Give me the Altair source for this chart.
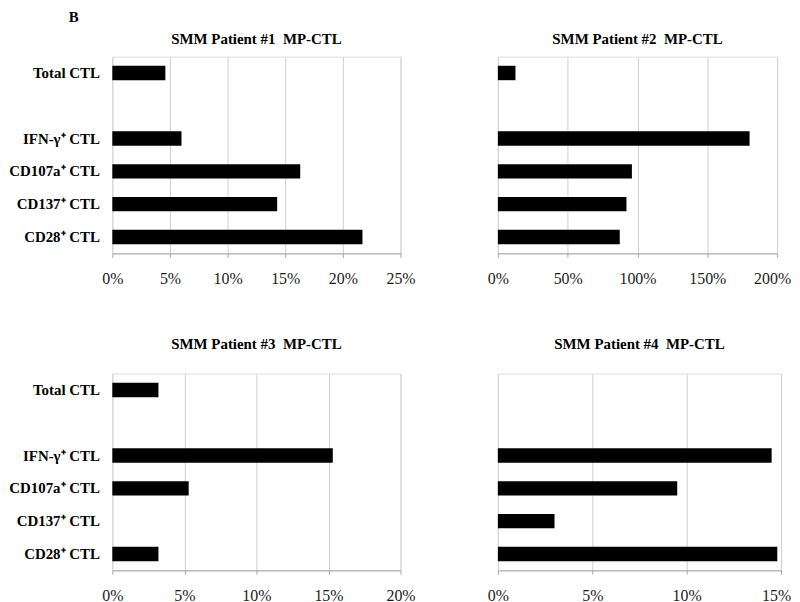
import altair as alt
import pandas as pd

categories = ["Total CTL", " ", "IFN-γ⁺ CTL", "CD107a⁺ CTL", "CD137⁺ CTL", "CD28⁺ CTL"]
bar_categories = ["Total CTL", "IFN-γ⁺ CTL", "CD107a⁺ CTL", "CD137⁺ CTL", "CD28⁺ CTL"]

patient1 = [4.6, 6.0, 16.3, 14.3, 21.7]
patient2 = [12.6, 180.3, 96.0, 92.1, 87.3]
patient3 = [3.2, 15.3, 5.3, 0.0, 3.2]
patient4 = [0.0, 14.5, 9.5, 3.0, 14.8]

titles = ["SMM Patient #1\u00a0\u00a0MP-CTL", "SMM Patient #2\u00a0\u00a0MP-CTL",
          "SMM Patient #3\u00a0\u00a0MP-CTL", "SMM Patient #4\u00a0\u00a0MP-CTL"]
x_max = [25, 200, 20, 15]
x_step = [5, 50, 5, 5]

FONT = "Liberation Serif"


def panel(values, title, xmax, step, show_labels, width, title_offset, end_shift):
    df = pd.DataFrame({"cat": bar_categories, "val": values})
    ticks = list(range(0, xmax + 1, step))
    return alt.Chart(df).mark_bar(color="black").encode(
        x=alt.X("val:Q",
                scale=alt.Scale(domain=[0, xmax], nice=False, zero=True),
                axis=alt.Axis(values=ticks, title=None, grid=True,
                              gridColor="#d0d0d0", domainColor="#a6a6a6",
                              tickColor="#a6a6a6", tickSize=4,
                              labelExpr="datum.value + '%'",
                              labelFont=FONT, labelFontSize=16,
                              labelColor="#1a1a1a", labelPadding=13,
                              labelOffset={"expr": f"datum.value == {xmax} ? {end_shift} : 0"},
                              labelFlush=False)),
        y=alt.Y("cat:N",
                scale=alt.Scale(domain=categories, paddingInner=0.56,
                                paddingOuter=0.28),
                axis=alt.Axis(title=None, domain=False, ticks=False,
                              labels=show_labels, labelFont=FONT,
                              labelFontSize=15, labelFontWeight="bold",
                              labelColor="black", labelPadding=13,
                              labelLimit=200)),
    ).properties(
        width=width, height=198,
        title=alt.TitleParams(title, font=FONT, fontSize=15,
                              fontWeight="bold", color="black",
                              anchor="middle", offset=title_offset),
    )


p1 = panel(patient1, titles[0], x_max[0], x_step[0], True, 290, 10, 0)
p2 = panel(patient2, titles[1], x_max[1], x_step[1], False, 281, 10, -5)
p3 = panel(patient3, titles[2], x_max[2], x_step[2], True, 290, 22, 0)
p4 = panel(patient4, titles[3], x_max[3], x_step[3], False, 285, 22, -5)

row1 = alt.hconcat(p1, p2, spacing=70)
row2 = alt.hconcat(p3, p4, spacing=70)

chart = alt.vconcat(row1, row2, spacing=49).properties(
    title=alt.TitleParams("B", font=FONT, fontSize=15, fontWeight="bold",
                          color="black", anchor="start", dx=61, offset=6),
    padding={"left": 0, "top": 0, "right": 0, "bottom": 0},
).configure_view(stroke=None).configure(background="white")

chart.save("out.html", embed_options={"renderer": "svg", "actions": False})
